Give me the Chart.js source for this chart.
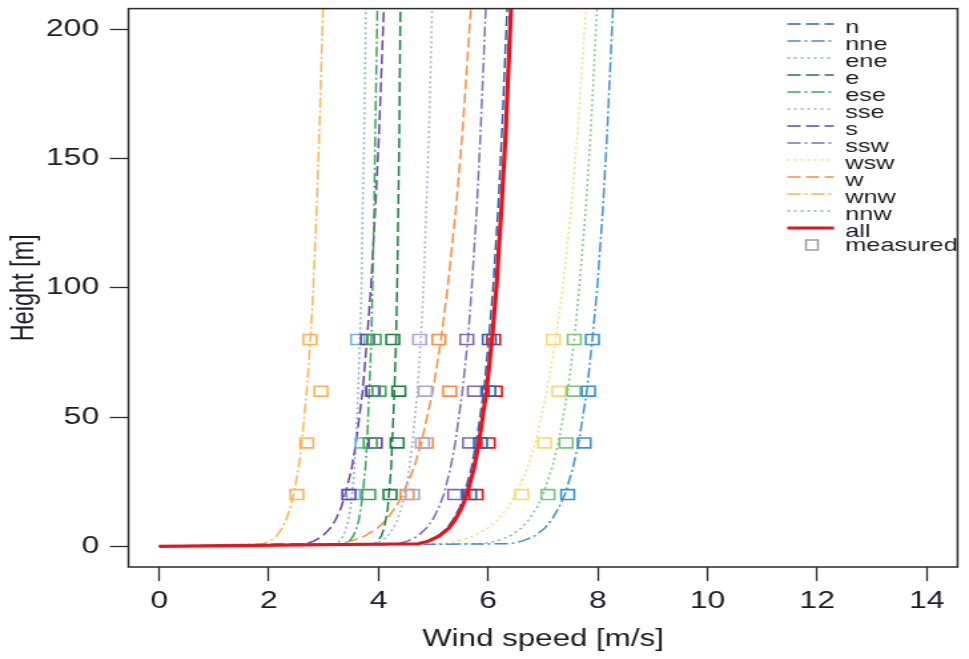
<!DOCTYPE html>
<html>
<head>
<meta charset="utf-8">
<title>Wind speed profiles by direction</title>
<script src="https://cdn.jsdelivr.net/npm/chart.js@4/dist/chart.umd.min.js"></script>
<style>
    html, body { margin: 0; padding: 0; background: #ffffff; overflow: hidden; }
    #profile { display: block; }
</style>
</head>
<body>
<!-- the reference picture is stretched sideways, so the canvas is drawn narrow and widened by its inline style -->
<canvas id="profile" width="728" height="659" style="width:969px;height:659px"></canvas>
<script>
var heights = [0, 1, 2, 4, 7, 10, 15, 20, 30, 40, 60, 80, 100, 130, 160, 210];

var directions = ['n', 'nne', 'ene', 'e', 'ese', 'sse', 's', 'ssw', 'wsw', 'w', 'wnw', 'nnw', 'all'];

// fitted wind speed [m/s] per direction, one value per height above
var speedN   = [0, 4.71, 4.89, 5.08, 5.25, 5.35, 5.48, 5.56, 5.69, 5.78, 5.92, 6.01, 6.09, 6.18, 6.25, 6.35];
var speedNne = [0, 6.41, 6.62, 6.85, 7.03, 7.15, 7.29, 7.40, 7.54, 7.65, 7.80, 7.90, 7.99, 8.09, 8.17, 8.28];
var speedEne = [0, 5.91, 6.15, 6.40, 6.60, 6.73, 6.89, 7.00, 7.16, 7.28, 7.45, 7.57, 7.66, 7.78, 7.87, 7.99];
var speedE   = [0, 3.94, 3.99, 4.05, 4.10, 4.13, 4.17, 4.19, 4.23, 4.25, 4.29, 4.32, 4.34, 4.36, 4.38, 4.40];
var speedEse = [0, 3.40, 3.47, 3.54, 3.60, 3.64, 3.68, 3.71, 3.76, 3.79, 3.83, 3.87, 3.89, 3.92, 3.94, 3.98];
var speedSse = [0, 3.92, 4.04, 4.17, 4.27, 4.34, 4.42, 4.48, 4.56, 4.62, 4.71, 4.77, 4.82, 4.87, 4.92, 4.98];
var speedS   = [0, 2.67, 2.82, 2.98, 3.12, 3.21, 3.32, 3.39, 3.51, 3.59, 3.71, 3.79, 3.86, 3.94, 4.01, 4.10];
var speedSsw = [0, 4.35, 4.53, 4.72, 4.87, 4.98, 5.10, 5.19, 5.31, 5.40, 5.53, 5.63, 5.70, 5.79, 5.86, 5.96];
var speedWsw = [0, 5.16, 5.44, 5.74, 5.99, 6.16, 6.36, 6.50, 6.71, 6.86, 7.07, 7.23, 7.36, 7.51, 7.63, 7.79];
var speedW   = [0, 3.24, 3.49, 3.75, 3.98, 4.13, 4.31, 4.44, 4.64, 4.78, 4.99, 5.14, 5.26, 5.41, 5.53, 5.69];
var speedWnw = [0, 1.90, 2.01, 2.14, 2.24, 2.31, 2.39, 2.45, 2.54, 2.60, 2.69, 2.76, 2.81, 2.87, 2.92, 2.99];
var speedNnw = [0, 3.22, 3.29, 3.36, 3.41, 3.45, 3.49, 3.52, 3.56, 3.59, 3.63, 3.66, 3.69, 3.71, 3.74, 3.77];
var speedAll = [0, 4.72, 4.91, 5.11, 5.28, 5.39, 5.52, 5.61, 5.74, 5.83, 5.97, 6.07, 6.15, 6.24, 6.32, 6.42];

// measured mean wind speed [m/s] at the mast heights
var measuredHeights = [20, 40, 60, 80];
var measN   = [5.66, 5.86, 6.01, 6.02];
var measNne = [7.45, 7.75, 7.83, 7.90];
var measEne = [7.09, 7.42, 7.56, 7.57];
var measE   = [4.21, 4.34, 4.37, 4.26];
var measEse = [3.82, 3.85, 4.01, 3.92];
var measSse = [4.62, 4.80, 4.85, 4.75];
var measS   = [3.46, 3.94, 3.90, 3.80];
var measSsw = [5.39, 5.66, 5.75, 5.61];
var measWsw = [6.61, 7.03, 7.29, 7.19];
var measW   = [4.52, 4.87, 5.30, 5.10];
var measWnw = [2.51, 2.69, 2.95, 2.75];
var measNnw = [3.54, 3.70, 3.88, 3.62];
var measAll = [5.78, 6.00, 6.13, 6.10];

var xTicks = [0, 2, 4, 6, 8, 10, 12, 14];
var yTicks = [0, 50, 100, 150, 200];

(function () {
    'use strict';

    var FONT = '"Liberation Sans", Arial, sans-serif';
    var INK = '#1c1c24';

    var DASHED = [10, 4];
    var DASHDOT = [10, 3, 2, 3];
    var DOTTED = [2, 3];

    var speeds = {
        n: speedN, nne: speedNne, ene: speedEne, e: speedE, ese: speedEse, sse: speedSse,
        s: speedS, ssw: speedSsw, wsw: speedWsw, w: speedW, wnw: speedWnw, nnw: speedNnw, all: speedAll
    };
    var measured = {
        n: measN, nne: measNne, ene: measEne, e: measE, ese: measEse, sse: measSse,
        s: measS, ssw: measSsw, wsw: measWsw, w: measW, wnw: measWnw, nnw: measNnw, all: measAll
    };

    var styles = {
        n:   { color: '#2b63b0', dash: DASHED },
        nne: { color: '#3d8fd1', dash: DASHDOT },
        ene: { color: '#78c679', dash: DOTTED },
        e:   { color: '#1a8040', dash: DASHED },
        ese: { color: '#3aa655', dash: DASHDOT },
        sse: { color: '#aaa6d6', dash: DOTTED },
        s:   { color: '#6a3fa8', dash: DASHED },
        ssw: { color: '#7d6bbd', dash: DASHDOT },
        wsw: { color: '#fdd870', dash: DOTTED },
        w:   { color: '#fb8c3c', dash: DASHED },
        wnw: { color: '#fdb350', dash: DASHDOT },
        nnw: { color: '#74b3e0', dash: DOTTED },
        all: { color: '#e8141c', dash: [] }
    };

    var datasets = [];
    directions.forEach(function (dir) {
        var st = styles[dir];
        var isAll = dir === 'all';
        datasets.push({
            label: dir,
            data: heights.map(function (h, i) { return { x: speeds[dir][i], y: h }; }),
            showLine: true,
            borderColor: st.color,
            borderDash: st.dash,
            borderWidth: isAll ? 3.2 : 1.5,
            pointRadius: 0,
            tension: 0,
            order: isAll ? 0 : 2
        });
    });
    directions.forEach(function (dir) {
        datasets.push({
            label: dir + ' measured',
            data: measuredHeights.map(function (h, i) { return { x: measured[dir][i], y: h }; }),
            showLine: false,
            pointStyle: 'rect',
            pointRadius: 7,
            pointBorderWidth: 1.6,
            pointBorderColor: styles[dir].color,
            pointBackgroundColor: 'rgba(0,0,0,0)',
            order: 1
        });
    });

    var framePlugin = {
        id: 'frame',
        afterDatasetsDraw: function (chart) {
            var a = chart.chartArea;
            var ctx = chart.ctx;
            ctx.save();
            ctx.strokeStyle = '#2a2a2a';
            ctx.lineWidth = 1.5;
            ctx.strokeRect(a.left, a.top, a.right - a.left, a.bottom - a.top);
            ctx.restore();
        }
    };

    // R-style legend: line samples and labels stacked at the top right of the plot
    var legendPlugin = {
        id: 'profileLegend',
        afterDraw: function (chart) {
            var ctx = chart.ctx;
            var x0 = 591.5, x1 = 626.5, tx = 635;
            var rowY = 24, step = 17;
            ctx.save();
            ctx.font = '19px ' + FONT;
            ctx.textBaseline = 'middle';
            ctx.textAlign = 'left';
            directions.forEach(function (dir, i) {
                var st = styles[dir];
                var y = rowY + i * step;
                ctx.strokeStyle = st.color;
                ctx.lineWidth = dir === 'all' ? 3.2 : 1.5;
                ctx.setLineDash(st.dash);
                ctx.beginPath();
                ctx.moveTo(x0, y);
                ctx.lineTo(x1, y);
                ctx.stroke();
                ctx.setLineDash([]);
                ctx.fillStyle = INK;
                ctx.fillText(dir, tx, y + 4);
            });
            var my = rowY + directions.length * step;
            ctx.strokeStyle = '#9a9a9a';
            ctx.lineWidth = 1.5;
            ctx.strokeRect(605.5, my - 5, 9, 10);
            ctx.fillStyle = INK;
            ctx.fillText('measured', tx, my + 1);
            ctx.restore();
        }
    };

    new Chart(document.getElementById('profile'), {
        type: 'scatter',
        data: { datasets: datasets },
        options: {
            responsive: false,
            animation: false,
            devicePixelRatio: 1,
            events: [],
            layout: { padding: { top: 4.5, right: 0.5, bottom: 0, left: 0 } },
            plugins: {
                legend: { display: false },
                tooltip: { enabled: false }
            },
            scales: {
                x: {
                    type: 'linear',
                    min: -0.56,
                    max: 14.56,
                    afterBuildTicks: function (scale) {
                        scale.ticks = xTicks.map(function (v) { return { value: v }; });
                    },
                    afterFit: function (scale) {
                        scale.height = 92;
                        scale.paddingLeft = 0;
                        scale.paddingRight = 0;
                    },
                    border: { display: false },
                    grid: {
                        drawOnChartArea: false,
                        drawTicks: true,
                        tickLength: 14,
                        tickWidth: 1.3,
                        tickColor: '#2a2a2a'
                    },
                    ticks: {
                        autoSkip: false,
                        maxRotation: 0,
                        padding: 6,
                        color: INK,
                        font: { family: FONT, size: 24 }
                    },
                    title: {
                        display: true,
                        text: 'Wind speed [m/s]',
                        color: INK,
                        font: { family: FONT, size: 23.5 },
                        padding: { top: 0, bottom: 5 }
                    }
                },
                y: {
                    type: 'linear',
                    min: -8,
                    max: 208,
                    afterBuildTicks: function (scale) {
                        scale.ticks = yTicks.map(function (v) { return { value: v }; });
                    },
                    afterFit: function (scale) {
                        scale.width = 96.5;
                        scale.paddingTop = 0;
                        scale.paddingBottom = 0;
                    },
                    border: { display: false },
                    grid: {
                        drawOnChartArea: false,
                        drawTicks: true,
                        tickLength: 14,
                        tickWidth: 1.3,
                        tickColor: '#2a2a2a'
                    },
                    ticks: {
                        padding: 8,
                        color: INK,
                        font: { family: FONT, size: 24 }
                    },
                    title: {
                        display: true,
                        text: 'Height [m]',
                        color: INK,
                        font: { family: FONT, size: 23.5 },
                        padding: { top: 4, bottom: 0 }
                    }
                }
            }
        },
        plugins: [framePlugin, legendPlugin]
    });
})();
</script>
</body>
</html>
